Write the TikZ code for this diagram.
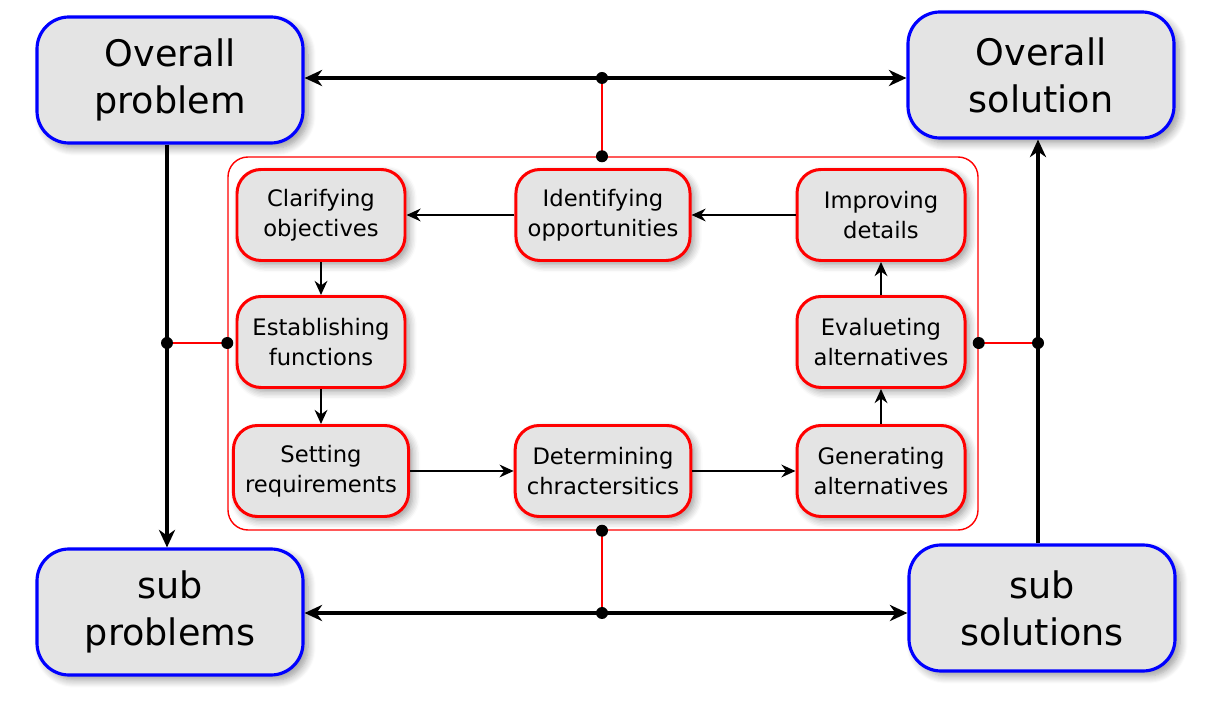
\documentclass[tikz,border=0pt]{standalone}
\usepackage{fontspec}
\setmainfont{DejaVu Sans}
\usetikzlibrary{shadows.blur}
\usetikzlibrary{arrows.meta}

\definecolor{boxgray}{RGB}{228,228,228}

\tikzset{
  bigbox/.style={draw=blue, line width=0.9pt, fill=boxgray, rounded corners=0.32cm,
    minimum width=2.66cm, minimum height=1.26cm, align=center,
    font=\fontsize{10.4}{13.4}\selectfont,
    blur shadow={shadow blur steps=8, shadow xshift=0.5mm, shadow yshift=-0.5mm, shadow opacity=40}},
  stepbox/.style={draw=red, line width=0.85pt, fill=boxgray, rounded corners=0.24cm,
    minimum width=1.68cm, minimum height=0.91cm, align=center,
    font=\fontsize{6.45}{8.4}\selectfont,
    blur shadow={shadow blur steps=6, shadow xshift=0.4mm, shadow yshift=-0.4mm, shadow opacity=40}},
  dot/.style={fill=black, circle, inner sep=0pt, minimum size=0.12cm},
  mainarrow/.style={line width=0.9pt, >={Stealth[length=5pt,width=4.6pt,inset=1.6pt]}},
  steparrow/.style={line width=0.7pt, ->, >={Stealth[length=4pt,width=3.6pt,inset=1.3pt]}},
  redlink/.style={red, line width=0.6pt}
}

\begin{document}
\begin{tikzpicture}
\useasboundingbox (0,0) rectangle (12.09,7.07);
% outer loop
\node[draw=red, line width=0.4pt, rounded corners=0.2cm, minimum width=7.5cm, minimum height=3.73cm] (loop) at (6.03,3.635) {};
% corner boxes
\node[bigbox] (op) at (1.70,6.27) {Overall\\problem};
\node[bigbox] (os) at (10.41,6.32) {Overall\\solution};
\node[bigbox] (sp) at (1.70,0.95) {sub\\problems};
\node[bigbox] (ss) at (10.42,0.99) {sub\\solutions};
% design steps
\node[stepbox] (clar) at (3.21,4.92) {Clarifying\\objectives};
\node[stepbox] (iden) at (6.03,4.92) {Identifying\\opportunities};
\node[stepbox] (impr) at (8.81,4.92) {Improving\\details};
\node[stepbox] (esta) at (3.21,3.65) {Establishing\\functions};
\node[stepbox] (eval) at (8.81,3.65) {Evalueting\\alternatives};
\node[stepbox] (sett) at (3.21,2.36) {Setting\\requirements};
\node[stepbox] (dete) at (6.03,2.36) {Determining\\chractersitics};
\node[stepbox] (gene) at (8.81,2.36) {Generating\\alternatives};
% junctions
\coordinate (topj) at (6.02,6.29);
\coordinate (botj) at (6.02,0.94);
\coordinate (leftj) at (1.67,3.64);
\coordinate (rightj) at (10.38,3.64);
% main arrows
\draw[mainarrow, <->] (op.east |- topj) -- (os.west |- topj);
\draw[mainarrow, <->] (sp.east |- botj) -- (ss.west |- botj);
\draw[mainarrow, ->] (op.south -| leftj) -- (sp.north -| leftj);
\draw[mainarrow, ->] (ss.north -| rightj) -- (os.south -| rightj);
% red links
\draw[redlink] (topj) -- (loop.north -| topj);
\draw[redlink] (botj) -- (loop.south -| botj);
\draw[redlink] (leftj) -- (loop.west |- leftj);
\draw[redlink] (rightj) -- (loop.east |- rightj);
\node[dot] at (topj) {};
\node[dot] at (botj) {};
\node[dot] at (leftj) {};
\node[dot] at (rightj) {};
\node[dot] at (loop.north -| topj) {};
\node[dot] at (loop.south -| botj) {};
\node[dot] at (loop.west |- leftj) {};
\node[dot] at (loop.east |- rightj) {};
% step arrows
\draw[steparrow] (impr) -- (iden);
\draw[steparrow] (iden) -- (clar);
\draw[steparrow] (clar) -- (esta);
\draw[steparrow] (esta) -- (sett);
\draw[steparrow] (sett) -- (dete);
\draw[steparrow] (dete) -- (gene);
\draw[steparrow] (gene) -- (eval);
\draw[steparrow] (eval) -- (impr);
\end{tikzpicture}
\end{document}
